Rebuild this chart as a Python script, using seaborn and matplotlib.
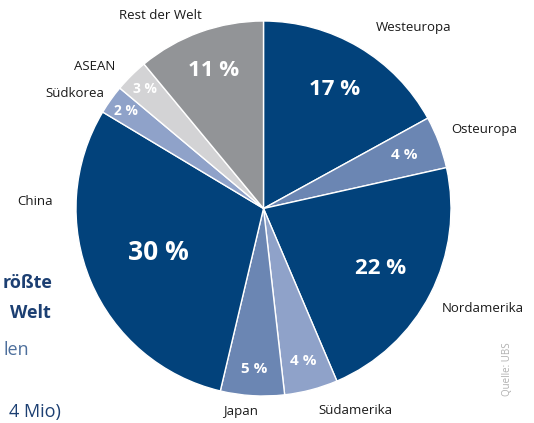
import matplotlib
matplotlib.use("Agg")
import matplotlib.pyplot as plt
import seaborn as sns
import numpy as np

# ---- data ----
regions = ["Westeuropa", "Osteuropa", "Nordamerika", "Südamerika", "Japan",
           "China", "Südkorea", "ASEAN", "Rest der Welt"]
shares = [17.0, 4.5, 22.1, 4.6, 5.5, 29.9, 2.5, 2.9, 11.0]
pct_labels = ["17 %", "4 %", "22 %", "4 %", "5 %", "30 %", "2 %", "3 %", "11 %"]

# ---- styling ----
NAVY = "#02427b"
MID = "#6b86b3"
LIGHT = "#8fa2c9"
PALE = "#d3d3d5"
GRAY = "#929497"
colors = [NAVY, MID, NAVY, LIGHT, MID, NAVY, LIGHT, PALE, GRAY]
pct_sizes = [16, 11, 16, 11, 11, 19, 10, 10, 16]
pct_radius = [0.74, 0.80, 0.70, 0.84, 0.86, 0.61, 0.90, 0.90, 0.78]
label_pos = {
    "Westeuropa": (0.80, 0.963),
    "Osteuropa": (1.176, 0.419),
    "Nordamerika": (1.171, -0.531),
    "Südamerika": (0.488, -1.075),
    "Japan": (-0.12, -1.08),
    "China": (-1.219, 0.04),
    "Südkorea": (-1.005, 0.611),
    "ASEAN": (-0.899, 0.76),
    "Rest der Welt": (-0.552, 1.027),
}

sns.set_theme(style="white")
plt.rcParams["font.family"] = ["Open Sans", "DejaVu Sans"]

W, H, DPI = 534, 423, 100
fig = plt.figure(figsize=(W / DPI, H / DPI), dpi=DPI)
ax = fig.add_axes([0, 0, 1, 1])

wedges, _ = ax.pie(shares, colors=colors, startangle=90, counterclock=False,
                   wedgeprops=dict(edgecolor="white", linewidth=1.0))

cx_px, cy_px, r_px = 263.5, 208.5, 187.5
ax.set_aspect("auto")
ax.set_xlim(-cx_px / r_px, (W - cx_px) / r_px)
ax.set_ylim(-(H - cy_px) / r_px, cy_px / r_px)
ax.axis("off")

for w, lab, fs, rr in zip(wedges, pct_labels, pct_sizes, pct_radius):
    ang = np.deg2rad((w.theta1 + w.theta2) / 2)
    ax.text(rr * np.cos(ang), rr * np.sin(ang), lab, ha="center", va="center",
            color="white", fontsize=fs, fontweight="bold")

for name in regions:
    x, y = label_pos[name]
    ax.text(x, y, name, ha="center", va="center", color="#1a1a1a", fontsize=9.5)

# clipped text from neighbouring layout at left edge
fig.text(53 / W, 1 - 283 / H, "rößte", ha="right", va="center",
         color="#1c3f72", fontsize=13, fontweight="bold")
fig.text(51 / W, 1 - 313 / H, "Welt", ha="right", va="center",
         color="#1c3f72", fontsize=13, fontweight="bold")
fig.text(29 / W, 1 - 350 / H, "len", ha="right", va="center",
         color="#4d6f9c", fontsize=13)
fig.text(61 / W, 1 - 412 / H, "4 Mio)", ha="right", va="center",
         color="#1c3f72", fontsize=13)

fig.text(507 / W, 1 - 369 / H, "Quelle: UBS", rotation=90, ha="center",
         va="center", color="#b0b0b0", fontsize=7)

fig.savefig("out.png", dpi=DPI)
